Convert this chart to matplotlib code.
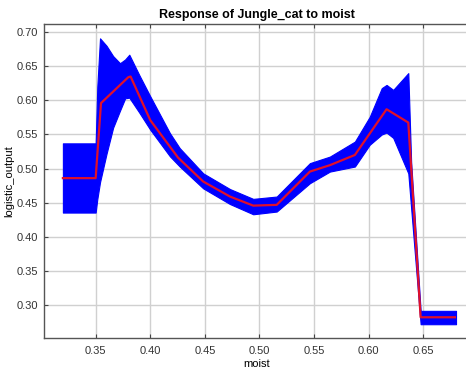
import matplotlib as mpl
mpl.use('Agg')
import matplotlib.pyplot as plt
import numpy as np

# band of replicate responses (upper / lower envelope)
band_x = [0.320, 0.350, 0.3515, 0.354, 0.360, 0.366, 0.3723, 0.377, 0.3808, 0.390,
          0.400, 0.418, 0.427, 0.4485, 0.473, 0.4943, 0.5158, 0.5462, 0.5645, 0.5874,
          0.601, 0.612, 0.6164, 0.6225, 0.6363, 0.6389, 0.6476, 0.680]
band_hi = [0.537, 0.537, 0.620, 0.691, 0.680, 0.665, 0.6545, 0.660, 0.667, 0.637,
           0.606, 0.552, 0.530, 0.493, 0.470, 0.4556, 0.459, 0.508, 0.5176, 0.5396,
           0.576, 0.618, 0.6227, 0.6154, 0.640, 0.510, 0.2914, 0.2914]
band_lo = [0.4355, 0.4355, 0.455, 0.480, 0.522, 0.560, 0.585, 0.603, 0.604, 0.582,
           0.557, 0.518, 0.503, 0.471, 0.448, 0.433, 0.437, 0.4786, 0.4956, 0.503,
           0.535, 0.550, 0.5528, 0.545, 0.493, 0.442, 0.2718, 0.2718]

# mean response
mean_x = [0.320, 0.350, 0.3549, 0.3799, 0.382, 0.400, 0.4255, 0.4485, 0.473, 0.4943,
          0.5158, 0.5462, 0.5645, 0.5874, 0.6164, 0.6363, 0.6476, 0.679]
mean_y = [0.486, 0.486, 0.596, 0.634, 0.635, 0.571, 0.516, 0.481, 0.459, 0.4457,
          0.4468, 0.4956, 0.505, 0.520, 0.587, 0.5675, 0.282, 0.282]

xticks = [0.35, 0.40, 0.45, 0.50, 0.55, 0.60, 0.65]
yticks = [0.30, 0.35, 0.40, 0.45, 0.50, 0.55, 0.60, 0.65, 0.70]

plt.rcParams['font.family'] = ['Liberation Sans', 'DejaVu Sans']

fig = plt.figure(figsize=(4.66, 3.70), dpi=100)
ax = fig.add_axes([44/466, 32/370, 426/466, 314/370])

ax.fill_between(band_x, band_lo, band_hi, color='#0000ff', linewidth=0.8, edgecolor='#0000ff', zorder=2)
ax.plot(mean_x, mean_y, color='#e0102a', linewidth=1.6, zorder=3)

ax.set_xlim(0.3027, 0.6928)
ax.set_ylim(0.2516, 0.712)
ax.set_xticks(xticks)
ax.set_yticks(yticks)
ax.set_xticklabels(['%.2f' % v for v in xticks])
ax.set_yticklabels(['%.2f' % v for v in yticks])
ax.grid(True, color='#d0d0d0', linewidth=1.0, zorder=0)
ax.set_axisbelow(True)
ax.tick_params(direction='in', top=True, right=True, length=3, width=0.8,
               colors='#444444', labelsize=8, labelcolor='#333333')
ax.tick_params(axis='y', pad=4)
ax.tick_params(axis='x', pad=6)
for sp in ax.spines.values():
    sp.set_color('#555555')
    sp.set_linewidth(1.0)

ax.set_title('Response of Jungle_cat to moist', fontsize=9, fontweight='bold', pad=4)
ax.set_xlabel('moist', fontsize=8, labelpad=2)
ax.set_ylabel('logistic_output', fontsize=8)
ax.yaxis.set_label_coords(-0.07, 0.5)

fig.savefig('out.png', dpi=100)
